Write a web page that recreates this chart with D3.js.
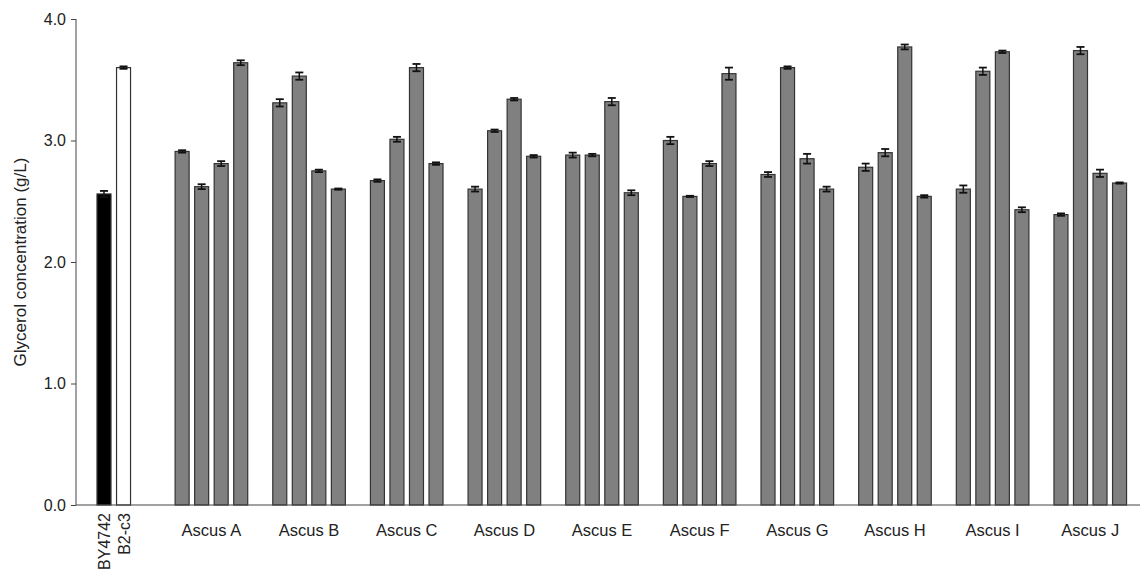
<!DOCTYPE html>
<html>
<head>
<meta charset="utf-8">
<script src="https://cdn.jsdelivr.net/npm/d3@7"></script>
<style>
  body { margin: 0; background: #fff; }
  text { font-family: "Liberation Sans", Arial, sans-serif; fill: #222; }
</style>
</head>
<body>
<svg id="chart" width="1140" height="572"></svg>
<script>
// controls
var controls = ["BY4742", "B2-c3"];
var controlValues = [2.56, 3.60];
var controlErrors = [0.025, 0.01];
var controlFills = ["#000000", "#ffffff"];

// tetrad groups, 4 spores each
var groups = ["Ascus A", "Ascus B", "Ascus C", "Ascus D", "Ascus E",
              "Ascus F", "Ascus G", "Ascus H", "Ascus I", "Ascus J"];
var groupValues = [
  [2.91, 2.62, 2.81, 3.64],
  [3.31, 3.53, 2.75, 2.60],
  [2.67, 3.01, 3.60, 2.81],
  [2.60, 3.08, 3.34, 2.87],
  [2.88, 2.88, 3.32, 2.57],
  [3.00, 2.54, 2.81, 3.55],
  [2.72, 3.60, 2.85, 2.60],
  [2.78, 2.90, 3.77, 2.54],
  [2.60, 3.57, 3.73, 2.43],
  [2.39, 3.74, 2.73, 2.65]
];
var groupErrors = [
  [0.01, 0.02, 0.02, 0.02],
  [0.03, 0.03, 0.01, 0.005],
  [0.01, 0.02, 0.03, 0.01],
  [0.02, 0.01, 0.01, 0.01],
  [0.02, 0.01, 0.03, 0.02],
  [0.03, 0.005, 0.02, 0.05],
  [0.02, 0.01, 0.04, 0.02],
  [0.03, 0.03, 0.02, 0.01],
  [0.03, 0.03, 0.01, 0.02],
  [0.01, 0.03, 0.03, 0.005]
];
var yTicks = [0, 1, 2, 3, 4];

var svg = d3.select("#chart");
var axisX = 76, yTop = 19, base = 505;
var step = 19.53, barW = 14;

// slot index -> x of bar left edge
var x = d3.scaleLinear().domain([0, 1]).range([97, 97 + step]);
var y = d3.scaleLinear().domain([0, 4]).range([base, yTop]);

var bars = [];
controls.forEach(function(c, i) {
  bars.push({slot: i, v: controlValues[i], e: controlErrors[i], fill: controlFills[i]});
});
groups.forEach(function(g, k) {
  groupValues[k].forEach(function(v, j) {
    bars.push({slot: 4 + 5 * k + j, v: v, e: groupErrors[k][j], fill: "#808080"});
  });
});

svg.selectAll("rect.bar").data(bars).enter().append("rect")
    .attr("class", "bar")
    .attr("x", function(d) { return x(d.slot); })
    .attr("y", function(d) { return y(d.v); })
    .attr("width", barW)
    .attr("height", function(d) { return base - y(d.v); })
    .style("fill", function(d) { return d.fill; })
    .style("stroke", "#333")
    .style("stroke-width", 1.2);

// error bars
var err = svg.selectAll("g.err").data(bars).enter().append("g")
    .attr("class", "err")
    .attr("transform", function(d) { return "translate(" + (x(d.slot) + barW / 2) + ",0)"; });
err.append("line")
    .attr("y1", function(d) { return y(d.v + d.e); })
    .attr("y2", function(d) { return y(d.v - d.e); })
    .style("stroke", "#111").style("stroke-width", 1.5);
err.append("line")
    .attr("x1", -4).attr("x2", 4)
    .attr("y1", function(d) { return y(d.v + d.e); })
    .attr("y2", function(d) { return y(d.v + d.e); })
    .style("stroke", "#111").style("stroke-width", 1.8);
err.append("line")
    .attr("x1", -4).attr("x2", 4)
    .attr("y1", function(d) { return y(d.v - d.e); })
    .attr("y2", function(d) { return y(d.v - d.e); })
    .style("stroke", "#111").style("stroke-width", 1.8);

// y axis
var yAxis = d3.axisLeft(y).tickValues(yTicks).tickFormat(d3.format(".1f")).tickSize(5).tickPadding(5);
var gy = svg.append("g").attr("transform", "translate(" + axisX + ",0)").call(yAxis);
gy.select(".domain").attr("d", "M0," + yTop + "V" + base).style("stroke", "#444");
gy.selectAll(".tick line").style("stroke", "#444");
gy.selectAll(".tick text").style("font-size", "16px").style("fill", "#222")
    .style("font-family", "Liberation Sans, Arial, sans-serif");

// x axis line
svg.append("line")
    .attr("x1", axisX).attr("x2", 1140)
    .attr("y1", base).attr("y2", base)
    .style("stroke", "#444").style("stroke-width", 1.2);

// y label
svg.append("text")
    .attr("transform", "translate(26," + ((yTop + base) / 2) + ") rotate(-90)")
    .attr("text-anchor", "middle")
    .style("font-size", "17px")
    .text("Glycerol concentration (g/L)");

// control labels, vertical
svg.selectAll("text.ctl").data(controls).enter().append("text")
    .attr("class", "ctl")
    .attr("transform", function(d, i) {
      return "translate(" + (x(i) + barW / 2 + 6) + "," + (base + 8) + ") rotate(-90)";
    })
    .attr("text-anchor", "end")
    .style("font-size", "16px")
    .text(function(d) { return d; });

// group labels
svg.selectAll("text.grp").data(groups).enter().append("text")
    .attr("class", "grp")
    .attr("x", function(d, k) { return (x(4 + 5 * k) + x(7 + 5 * k) + barW) / 2; })
    .attr("y", 536)
    .attr("text-anchor", "middle")
    .style("font-size", "16.5px")
    .text(function(d) { return d; });
</script>
</body>
</html>
